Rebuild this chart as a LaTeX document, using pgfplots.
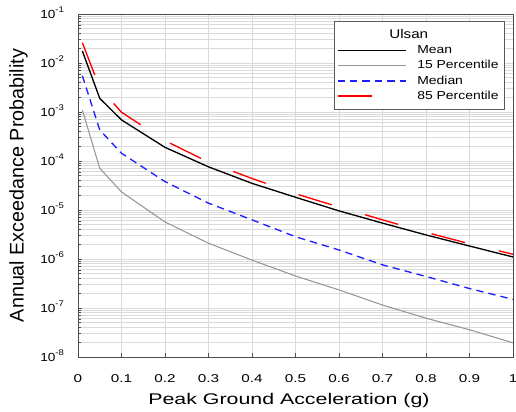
\documentclass[border=0pt]{standalone}
\usepackage{pgfplots}
\pgfplotsset{compat=1.18}
\usetikzlibrary{calc}
\usepackage{fontspec}
\setmainfont{Liberation Sans}
% the reference text looks stretched sideways
\newfontfamily\xfont{Liberation Sans}[FakeStretch=1.35]
\newfontfamily\xlfont{Liberation Sans}[FakeStretch=1.38]
\newfontfamily\yfont{Liberation Sans}[FakeStretch=1.16]
\newfontfamily\lfont{Liberation Sans}[FakeStretch=1.2]

\definecolor{gridgray}{RGB}{218,218,218}
\definecolor{pct15}{RGB}{150,150,150}
\definecolor{medblue}{RGB}{30,30,255}

\newcommand{\ex}[1]{10\smash{\textsuperscript{-#1}}}

\begin{document}
\begin{tikzpicture}
\begin{axis}[
  scale only axis, width=326.25pt, height=257.25pt,
  ymode=log, xmin=0, xmax=1, ymin=1e-8, ymax=1e-1,
  xtick={0,0.1,...,1.01},
  xticklabels={0,0.1,0.2,0.3,0.4,0.5,0.6,0.7,0.8,0.9,1},
  ytick={1e-8,1e-7,1e-6,1e-5,1e-4,1e-3,1e-2,1e-1},
  yticklabels={\ex8,\ex7,\ex6,\ex5,\ex4,\ex3,\ex2,\ex1},
  tick pos=left, tick align=inside,
  major tick length=3pt, minor tick length=2pt,
  xmajorgrids, ymajorgrids, yminorgrids,
  major grid style={gridgray, line width=0.6pt},
  minor grid style={gridgray, line width=0.6pt},
  axis line style={black!70},
  every tick/.style={black!70},
  xticklabel style={font=\xfont\fontsize{8.5}{10}\selectfont, anchor=center, yshift=-16.5pt},
  yticklabel style={font=\yfont\fontsize{8.8}{10}\selectfont, anchor=east, xshift=-6.5pt},
  xlabel={Peak Ground Acceleration (g)},
  ylabel={Annual Exceedance Probability},
  xlabel style={font=\xlfont\fontsize{11.6}{14}\selectfont,
    at={(axis description cs:0.485,-0.1254)}, anchor=center},
  ylabel style={font=\fontsize{14.8}{16}\selectfont,
    at={(axis description cs:-0.1367,0.5)}, anchor=center},
  legend style={at={(0.5885,0.979)}, anchor=north west,
    draw=black!65, fill=white, font=\lfont\fontsize{8.7}{10}\selectfont,
    inner xsep=2pt, inner ysep=4.2pt, row sep=-0.4pt,
    cells={anchor=west},
    /tikz/every odd column/.append style={column sep=5.8pt}},
  legend image code/.code={\draw[#1] plot coordinates {(0pt,0pt) (51.5pt,0pt)};},
]
\addlegendimage{empty legend}
\addlegendentry{\hspace*{-21pt}\fontsize{9.5}{11}\selectfont Ulsan}

\addplot[black, line width=1pt] coordinates {
 (0.01,1.76e-2) (0.05,1.9e-3) (0.1,6.9e-4) (0.2,1.9e-4) (0.3,7.6e-5) (0.4,3.5e-5)
 (0.5,1.82e-5) (0.6,9.6e-6) (0.7,5.4e-6) (0.8,3.1e-6) (0.9,1.84e-6) (1.0,1.1e-6)};
\addlegendentry{Mean}

\addplot[pct15, line width=0.8pt] coordinates {
 (0.01,1.1e-3) (0.05,7.1e-5) (0.1,2.34e-5) (0.2,5.7e-6) (0.3,2.1e-6) (0.4,9.5e-7)
 (0.5,4.5e-7) (0.6,2.34e-7) (0.7,1.15e-7) (0.8,6.2e-8) (0.9,3.6e-8) (1.0,1.95e-8)};
\addlegendentry{15 Percentile}

\addplot[medblue, line width=1pt, dash pattern=on 5.5pt off 3.8pt] coordinates {
 (0.01,5.5e-3) (0.05,4.3e-4) (0.1,1.44e-4) (0.2,3.8e-5) (0.3,1.38e-5) (0.4,6.3e-6)
 (0.5,2.85e-6) (0.6,1.53e-6) (0.7,7.6e-7) (0.8,4.4e-7) (0.9,2.5e-7) (1.0,1.5e-7)};
\addlegendentry{Median}

\addplot[red, line width=1pt, dash pattern=on 26pt off 26pt] coordinates {
 (0.01,2.6e-2) (0.05,3.1e-3) (0.1,9.9e-4) (0.2,2.6e-4) (0.3,9.5e-5) (0.4,4.4e-5)
 (0.5,2.15e-5) (0.6,1.15e-5) (0.7,6.3e-6) (0.8,3.5e-6) (0.9,2.05e-6) (1.0,1.25e-6)};
\addlegendentry{85 Percentile}
\end{axis}
\pgfresetboundingbox
\path ($(current axis.south west)+(-58.5pt,-40.5pt)$) rectangle ($(current axis.north east)+(2.25pt,10.5pt)$);
\end{tikzpicture}
\end{document}
